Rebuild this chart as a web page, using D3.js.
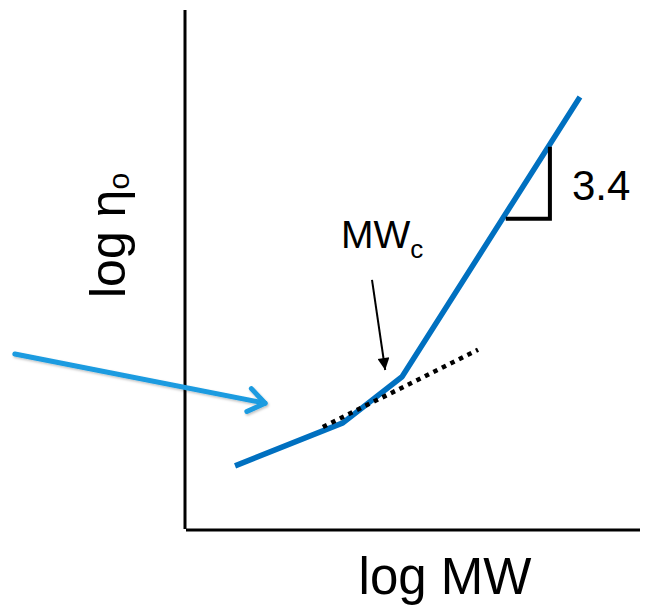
<!DOCTYPE html>
<html>
<head>
<meta charset="utf-8">
<script src="https://cdn.jsdelivr.net/npm/d3@7"></script>
<style>
  body { margin: 0; background: #fff; }
  text { font-family: "Liberation Sans", Arial, sans-serif; fill: #000; }
</style>
</head>
<body>
<svg id="chart"></svg>
<script>
// chart data (arbitrary log units, 0..10 on both axes)
const curve = [[1.10, 1.20], [3.47, 2.03], [4.77, 2.92], [8.68, 8.32]];
const tangent = [[3.03, 1.95], [6.44, 3.44]];
const mwcArrow = [[4.11, 4.79], [4.40, 3.05]];
const blueArrow = [[-3.74, 3.36], [1.76, 2.41]];
const slopeMark = [[8.02, 7.36], [8.02, 5.97], [7.05, 5.97]];
const slopeLabel = '3.4';

const width = 650;
const height = 605;
const margin = { top: 10, right: 10, bottom: 77, left: 185 };

const svg = d3.select('#chart')
  .attr('width', width)
  .attr('height', height);

const xScale = d3.scaleLinear()
  .domain([0, 10])
  .range([margin.left, width - margin.right]);

const yScale = d3.scaleLinear()
  .domain([0, 10])
  .range([height - margin.bottom, margin.top]);

const line = d3.line()
  .x(d => xScale(d[0]))
  .y(d => yScale(d[1]));

// markers
const defs = svg.append('defs');
defs.append('marker')
  .attr('id', 'headBlack')
  .attr('viewBox', '0 0 10 10')
  .attr('refX', 10).attr('refY', 5)
  .attr('markerWidth', 7).attr('markerHeight', 6)
  .attr('markerUnits', 'strokeWidth')
  .attr('orient', 'auto')
  .append('path')
  .attr('d', 'M0,0 L10,5 L0,10 Z')
  .attr('fill', '#000');

defs.append('filter')
  .attr('id', 'shadow')
  .append('feDropShadow')
  .attr('dx', 1).attr('dy', 1.5)
  .attr('stdDeviation', 1)
  .attr('flood-color', '#000')
  .attr('flood-opacity', 0.25);

// axes (plain lines, no ticks)
svg.append('line')
  .attr('x1', xScale(0)).attr('x2', xScale(0))
  .attr('y1', yScale(10)).attr('y2', yScale(0) + 1)
  .attr('stroke', '#000').attr('stroke-width', 3);

svg.append('line')
  .attr('x1', xScale(0) + 1).attr('x2', xScale(10))
  .attr('y1', yScale(0) + 2).attr('y2', yScale(0) + 2)
  .attr('stroke', '#000').attr('stroke-width', 3);

// main curve
svg.append('path')
  .datum(curve)
  .attr('d', line.curve(d3.curveLinear))
  .attr('fill', 'none')
  .attr('stroke', '#0070c0')
  .attr('stroke-width', 5.5)
  .attr('stroke-linejoin', 'round');

// dotted tangent
svg.append('path')
  .datum(tangent)
  .attr('d', line)
  .attr('fill', 'none')
  .attr('stroke', '#000')
  .attr('stroke-width', 4.5)
  .attr('stroke-dasharray', '4.5 5');

// MWc arrow
svg.append('path')
  .datum(mwcArrow)
  .attr('d', line)
  .attr('fill', 'none')
  .attr('stroke', '#000')
  .attr('stroke-width', 2)
  .attr('marker-end', 'url(#headBlack)');

// blue pointer arrow with open head
const bx0 = xScale(blueArrow[0][0]), by0 = yScale(blueArrow[0][1]);
const bx1 = xScale(blueArrow[1][0]), by1 = yScale(blueArrow[1][1]);
const ang = Math.atan2(by1 - by0, bx1 - bx0);
const hl = 20, ha = 0.62;
const blue = svg.append('g').attr('filter', 'url(#shadow)');
blue.append('path')
  .datum(blueArrow)
  .attr('d', line)
  .attr('fill', 'none')
  .attr('stroke', '#1a9be0')
  .attr('stroke-width', 5)
  .attr('stroke-linecap', 'round');
blue.append('path')
  .attr('d', `M${bx1 - hl * Math.cos(ang - ha)},${by1 - hl * Math.sin(ang - ha)}`
    + `L${bx1},${by1}`
    + `L${bx1 - hl * Math.cos(ang + ha)},${by1 - hl * Math.sin(ang + ha)}`)
  .attr('fill', 'none')
  .attr('stroke', '#1a9be0')
  .attr('stroke-width', 5)
  .attr('stroke-linecap', 'round')
  .attr('stroke-linejoin', 'round');

// slope triangle
svg.append('path')
  .datum(slopeMark)
  .attr('d', line)
  .attr('fill', 'none')
  .attr('stroke', '#000')
  .attr('stroke-width', 4)
  .attr('stroke-linejoin', 'miter');

svg.append('text')
  .attr('x', xScale(slopeMark[0][0]) + 22)
  .attr('y', 200)
  .attr('font-size', 42)
  .text(slopeLabel);

// MWc label
const mwc = svg.append('text')
  .attr('x', 341)
  .attr('y', 248)
  .attr('font-size', 39);
mwc.append('tspan').text('MW');
mwc.append('tspan')
  .attr('font-size', 26)
  .attr('dy', 10)
  .text('c');

// axis titles
svg.append('text')
  .attr('x', 445)
  .attr('y', 594)
  .attr('text-anchor', 'middle')
  .attr('font-size', 51)
  .text('log MW');

const ylab = svg.append('text')
  .attr('transform', 'translate(125,298) rotate(-90)')
  .attr('font-size', 50);
ylab.append('tspan').text('log η');
ylab.append('tspan')
  .attr('font-size', 30)
  .attr('dy', 4)
  .text('o');
</script>
</body>
</html>
